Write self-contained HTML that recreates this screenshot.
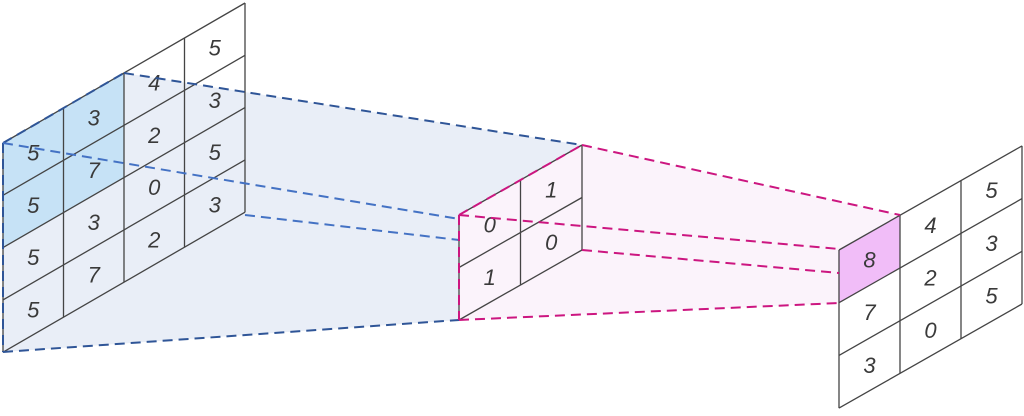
<!DOCTYPE html>
<html><head><meta charset="utf-8"><style>
html,body{margin:0;padding:0;background:#fff;width:1024px;height:416px;overflow:hidden}
text{font-family:"Liberation Sans",sans-serif;font-size:22px;fill:#3a3a3a;font-style:italic;text-anchor:middle;dominant-baseline:central}
</style></head><body>
<svg width="1024" height="416" viewBox="0 0 1024 416" xmlns="http://www.w3.org/2000/svg">
<polygon points="3,143 245,3 245,212.2 3,352.2" fill="#fff"/>
<polygon points="3,143 124,73 582,145 459,320 3,352" fill="#e9eef7"/>
<polygon points="3,143 124,73 124,177.6 3,247.6" fill="#c6e2f6"/>
<polygon points="459,215 582,145 900,215 839,303 459,320" fill="#fbf3fb"/>
<polygon points="839,250 1022,145.9 1022,304 839,408.1" fill="#fff"/>
<polygon points="839,250 900,215.3 900,268 839,302.7" fill="#f1bdf8"/>

<g stroke="#444" stroke-width="1.3" fill="none">
<line x1="3" y1="143" x2="3" y2="352.2"/>
<line x1="63.5" y1="108" x2="63.5" y2="317.2"/>
<line x1="124" y1="73" x2="124" y2="282.2"/>
<line x1="184.5" y1="38" x2="184.5" y2="247.2"/>
<line x1="245" y1="3" x2="245" y2="212.2"/>
<line x1="3" y1="143" x2="245" y2="3"/>
<line x1="3" y1="195.3" x2="245" y2="55.3"/>
<line x1="3" y1="247.6" x2="245" y2="107.6"/>
<line x1="3" y1="299.9" x2="245" y2="159.9"/>
<line x1="3" y1="352.2" x2="245" y2="212.2"/>
<line x1="459" y1="215" x2="459" y2="320"/>
<line x1="520.5" y1="180" x2="520.5" y2="285"/>
<line x1="582" y1="145" x2="582" y2="250"/>
<line x1="459" y1="215" x2="582" y2="145"/>
<line x1="459" y1="267.5" x2="582" y2="197.5"/>
<line x1="459" y1="320" x2="582" y2="250"/>
<line x1="839" y1="250" x2="839" y2="408.1"/>
<line x1="900" y1="215.3" x2="900" y2="373.4"/>
<line x1="961" y1="180.6" x2="961" y2="338.7"/>
<line x1="1022" y1="145.9" x2="1022" y2="304"/>
<line x1="839" y1="250" x2="1022" y2="145.9"/>
<line x1="839" y1="302.7" x2="1022" y2="198.6"/>
<line x1="839" y1="355.4" x2="1022" y2="251.3"/>
<line x1="839" y1="408.1" x2="1022" y2="304"/>
</g>

<g>
<text x="33.25" y="153">5</text><text x="93.75" y="118">3</text><text x="154.25" y="83">4</text><text x="214.75" y="48">5</text>
<text x="33.25" y="205.3">5</text><text x="93.75" y="170.3">7</text><text x="154.25" y="135.3">2</text><text x="214.75" y="100.3">3</text>
<text x="33.25" y="257.6">5</text><text x="93.75" y="222.6">3</text><text x="154.25" y="187.6">0</text><text x="214.75" y="152.6">5</text>
<text x="33.25" y="309.9">5</text><text x="93.75" y="274.9">7</text><text x="154.25" y="239.9">2</text><text x="214.75" y="204.9">3</text>
<text x="489.75" y="225">0</text><text x="551.25" y="190">1</text>
<text x="489.75" y="277.5">1</text><text x="551.25" y="242.5">0</text>
<text x="869.5" y="260">8</text><text x="930.5" y="225.3">4</text><text x="991.5" y="190.6">5</text>
<text x="869.5" y="312.7">7</text><text x="930.5" y="278">2</text><text x="991.5" y="243.3">3</text>
<text x="869.5" y="365.4">3</text><text x="930.5" y="330.7">0</text><text x="991.5" y="296">5</text>
</g>

<g fill="none" stroke-width="2" stroke-dasharray="10 6">
<g stroke="#2f5597">
<line x1="3" y1="143" x2="3" y2="352"/>
<line x1="3" y1="143" x2="124" y2="73"/>
<line x1="124" y1="73" x2="582" y2="145"/>
<line x1="3" y1="352" x2="459" y2="320"/>
</g>
<g stroke="#4472c4">
<line x1="3" y1="143" x2="459" y2="219"/>
<line x1="245" y1="215" x2="459" y2="240"/>
</g>
<g stroke="#cc1680">
<line x1="459" y1="215" x2="459" y2="320"/>
<line x1="459" y1="215" x2="582" y2="145"/>
<line x1="582" y1="145" x2="900" y2="215"/>
<line x1="459" y1="215" x2="839" y2="249"/>
<line x1="582" y1="250" x2="839" y2="273"/>
<line x1="459" y1="320" x2="839" y2="303"/>
</g>
</g>
</svg>
</body></html>
